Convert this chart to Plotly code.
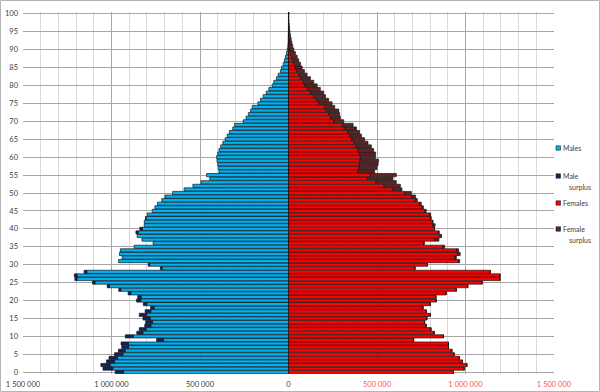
import plotly.graph_objects as go

# ---------------- data (thousands of people, single-year ages 0..100) ----------------
ages = list(range(101))

males = [
    979, 1048, 1060, 1028, 1014, 983, 961, 942, 946, 745,        # 0-9
    922, 857, 843, 812, 807, 822, 843, 810, 779, 820,            # 10-19
    858, 852, 906, 959, 1024, 1107, 1207, 1210, 1155, 724,       # 20-29
    792, 960, 940, 955, 950, 872, 765, 828, 855, 862,            # 30-39
    840, 815, 815, 808, 798, 770, 755, 740, 716, 698,            # 40-49
    655, 590, 540, 494, 445, 463, 393, 397, 400, 404,            # 50-59
    406, 400, 393, 383, 371, 358, 346, 334, 315, 305,            # 60-69
    256, 240, 227, 214, 205, 173, 158, 143, 126, 111,            # 70-79
    92, 83, 68, 58, 45, 39, 30, 23, 17, 11,                      # 80-89
    7, 4, 2.5, 2, 1.5, 1, 0.7, 0.5, 0.3, 0.2,                    # 90-99
    0.3,                                                         # 100
]

females = [
    932, 993, 1008, 983, 966, 936, 923, 904, 904, 707,           # 0-9
    876, 823, 805, 778, 769, 782, 801, 778, 760, 801,            # 10-19
    835, 833, 891, 948, 1013, 1094, 1195, 1195, 1140, 715,       # 20-29
    785, 967, 948, 970, 961, 882, 767, 850, 865, 850,            # 30-39
    825, 828, 815, 805, 803, 778, 762, 750, 728, 718,            # 40-49
    694, 641, 632, 609, 590, 609, 487, 500, 506, 509,            # 50-59
    491, 492, 481, 468, 449, 430, 412, 402, 384, 365,            # 60-69
    312, 293, 289, 284, 261, 246, 227, 209, 199, 180,            # 70-79
    162, 143, 124, 105, 90, 77, 68, 58, 49, 39,                  # 80-89
    30, 24, 19, 15, 11, 8, 6, 4, 3, 2,                           # 90-99
    3,                                                           # 100
]

x_tick_values = [-1500000, -1000000, -500000, 0, 500000, 1000000, 1500000]
x_tick_labels = ["1 500 000", "1 000 000", "500 000", "0", "500 000", "1 000 000", "1 500 000"]
y_tick_values = list(range(0, 101, 5))

legend_names = ["Males", "Male surplus", "Females", "Female surplus"]

# ---------------- derived series ----------------
common = [min(m, f) * 1000 for m, f in zip(males, females)]
male_surplus = [max(m - f, 0) * 1000 for m, f in zip(males, females)]
female_surplus = [max(f - m, 0) * 1000 for m, f in zip(males, females)]

C_MALE = "#00B0F0"
C_MSUR = "#0E2360"
C_FEM = "#FF0000"
C_FSUR = "#5E2323"
OUTLINE = dict(color="#151515", width=0.7)

fig = go.Figure()
fig.add_bar(y=ages, x=[-v for v in common], orientation="h", name=legend_names[0],
            marker=dict(color=C_MALE, line=OUTLINE), showlegend=False, hoverinfo="skip")
fig.add_bar(y=ages, x=[-v for v in male_surplus], orientation="h", name=legend_names[1],
            marker=dict(color=C_MSUR, line=OUTLINE), showlegend=False, hoverinfo="skip")
fig.add_bar(y=ages, x=common, orientation="h", name=legend_names[2],
            marker=dict(color=C_FEM, line=OUTLINE), showlegend=False, hoverinfo="skip")
fig.add_bar(y=ages, x=female_surplus, orientation="h", name=legend_names[3],
            marker=dict(color=C_FSUR, line=OUTLINE), showlegend=False, hoverinfo="skip")

# ---------------- layout ----------------
W, H = 600, 392
ML, MR, MT, MB = 23, 46, 12, 18
PW, PH = W - ML - MR, H - MT - MB


def px_x(px):
    return (px - ML) / PW


def px_y(py):
    return (H - MB - py) / PH


ticktext = []
for v, t in zip(x_tick_values, x_tick_labels):
    col = "#F05A5A" if v > 0 else "#404040"
    ticktext.append(f"<span style='color:{col}'>{t}</span>")

FONT = "Lato, 'Open Sans', sans-serif"

fig.update_layout(
    width=W, height=H,
    margin=dict(l=ML, r=MR, t=MT, b=MB, pad=0, autoexpand=False),
    paper_bgcolor="white", plot_bgcolor="white",
    barmode="relative", bargap=0.12,
    font=dict(family=FONT, size=7.5, color="#404040"),
    showlegend=False,
    xaxis=dict(
        range=[-1500000, 1500000], tickmode="array", tickvals=x_tick_values, ticktext=ticktext,
        showgrid=True, gridcolor="#A6A6A6", gridwidth=1,
        minor=dict(tickmode="linear", tick0=0, dtick=100000, showgrid=True, gridcolor="#D9D9D9", gridwidth=1),
        zeroline=True, zerolinecolor="#A6A6A6", zerolinewidth=1,
        ticks="", ticklabelstandoff=4, tickfont=dict(size=7.5), fixedrange=True, automargin=False,
    ),
    yaxis=dict(
        range=[-0.5, 100.5], tickmode="array", tickvals=y_tick_values,
        showgrid=True, gridcolor="#A6A6A6", gridwidth=1, zeroline=False,
        ticks="", ticklabelstandoff=4, tickfont=dict(size=7.5, color="#404040"), fixedrange=True,
        automargin=False,
    ),
)

# outer chart border
fig.add_shape(type="rect", xref="paper", yref="paper",
              x0=px_x(0.5), x1=px_x(W - 0.5), y0=px_y(H - 0.5), y1=px_y(0.5),
              line=dict(color="#B4B4B4", width=1), fillcolor="rgba(0,0,0,0)", layer="above")

# legend (swatches + labels)
legend_items = [
    (C_MALE, 148, [("Males", 561, 148)]),
    (C_MSUR, 176, [("Male", 561, 176), ("surplus", 567, 186.5)]),
    (C_FEM, 203, [("Females", 561, 203)]),
    (C_FSUR, 229, [("Female", 561, 229), ("surplus", 567, 239.5)]),
]
for color, sy, texts in legend_items:
    fig.add_shape(type="rect", xref="paper", yref="paper",
                  x0=px_x(556), x1=px_x(560.5), y0=px_y(sy + 2.2), y1=px_y(sy - 2.2),
                  line=dict(color="#202020", width=0.6), fillcolor=color, layer="above")
    for txt, tx, ty in texts:
        fig.add_annotation(text=txt, xref="paper", yref="paper", x=px_x(tx), y=px_y(ty),
                           xanchor="left", yanchor="middle", showarrow=False,
                           font=dict(family=FONT, size=7, color="#404040"))

fig.write_html("out.html")
